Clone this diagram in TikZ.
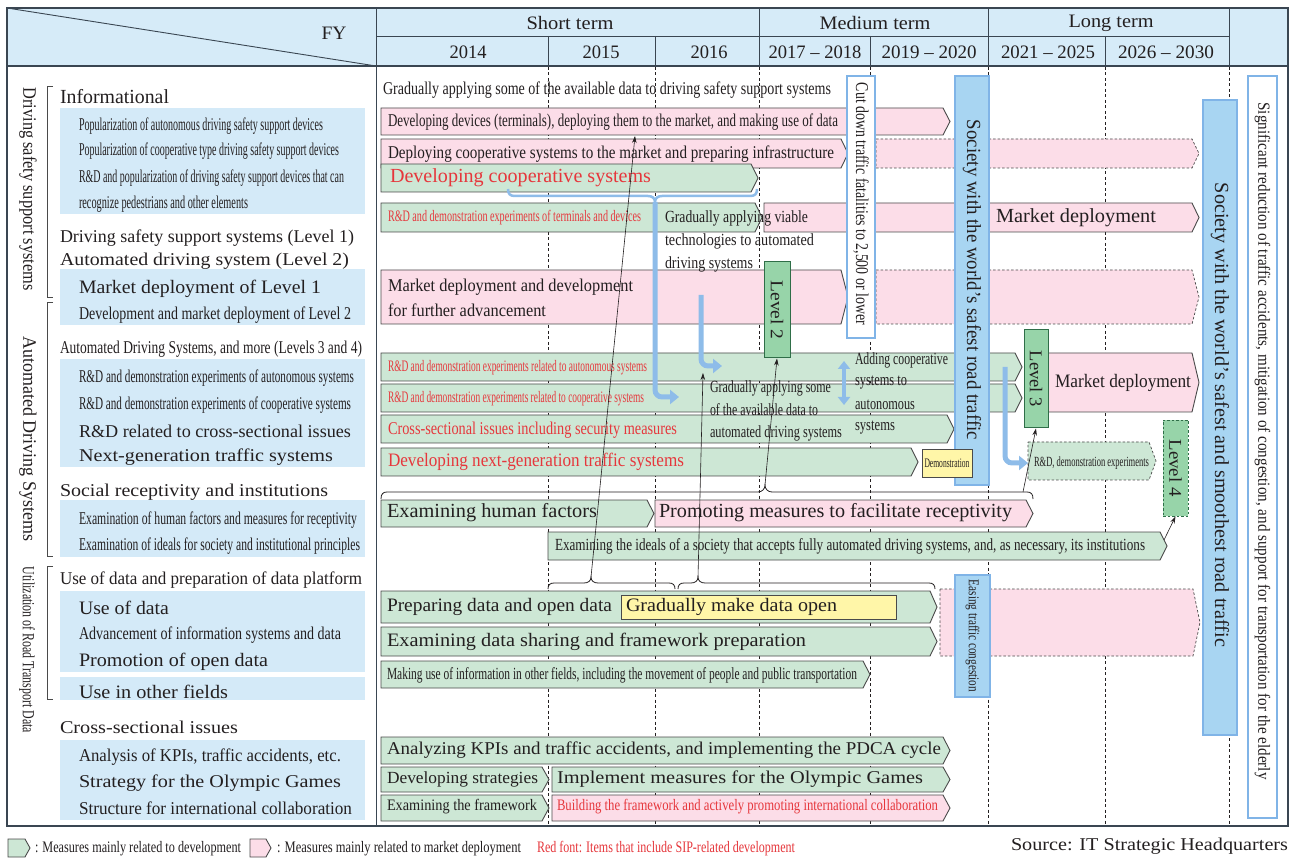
\documentclass[tikz,border=0pt]{standalone}
\usepackage{fontspec}
\setmainfont{Liberation Serif}
\usepackage{graphicx}
\usetikzlibrary{arrows.meta}
\definecolor{ink}{HTML}{231F20}
\definecolor{hdr}{HTML}{D6EBF8}
\definecolor{lbox}{HTML}{D4EAF8}
\definecolor{gf}{HTML}{CDE7D5}
\definecolor{pf}{HTML}{FCDDE8}
\definecolor{lvf}{HTML}{97D4A9}
\definecolor{lve}{HTML}{2F6E48}
\definecolor{bbf}{HTML}{A8D5F2}
\definecolor{bbe}{HTML}{80B4E7}
\definecolor{barc}{HTML}{8EBCE9}
\definecolor{rt}{HTML}{E6373C}
\definecolor{yf}{HTML}{FFF6A8}
\definecolor{edg}{HTML}{4A4A4A}
\definecolor{frm}{HTML}{3A4652}
\newcommand{\fw}[2]{\resizebox{#1pt}{\height}{#2}}
\newcommand{\fsz}[1]{\fontsize{#1}{#1}\selectfont}
\newcommand{\chv}[6]{\path[#1] (#3,#4) -- (#5-7,#4) -- (#5,{(#4+#6)/2}) -- (#5-7,#6) -- (#3,#6) -- cycle; \coordinate (#2) at (#3,{(#4+#6)/2});}
\tikzset{
 tx/.style={inner sep=0pt,outer sep=0pt,anchor=west,text=ink},
 tc/.style={inner sep=0pt,outer sep=0pt,anchor=center,text=ink},
 sip/.style={text=rt},
 gbar/.style={fill=gf,draw=edg,line width=0.9pt},
 pbar/.style={fill=pf,draw=edg,line width=0.9pt},
 pdash/.style={fill=pf,draw=edg,line width=0.7pt,dash pattern=on 2.5pt off 2pt},
 gdash/.style={fill=gf,draw=edg,line width=0.7pt,dash pattern=on 2.5pt off 2pt},
 gridl/.style={draw=ink,line width=0.6pt,dash pattern=on 3pt off 2.5pt},
 hl/.style={draw=frm,line width=0.9pt},
 brk/.style={draw=edg,line width=0.8pt},
 lvl/.style={fill=lvf,draw=lve,line width=1pt,inner sep=0pt},
 lvld/.style={fill=lvf,draw=lve,line width=0.9pt,dash pattern=on 2.5pt off 2pt,inner sep=0pt},
 bigbar/.style={fill=bbf,draw=bbe,line width=2.2pt,inner sep=0pt},
 wbox/.style={fill=white,draw=bbe,line width=2.2pt,inner sep=0pt},
 ybox/.style={fill=yf,draw=edg,line width=0.9pt,inner sep=0pt},
 barr/.style={draw=barc,line width=5pt,rounded corners=7pt,-{Triangle[length=9pt,width=14pt]}},
 barr2/.style={draw=barc,line width=4pt,{Triangle[length=8pt,width=12pt]}-{Triangle[length=8pt,width=12pt]}},
 brc/.style={draw=ink,line width=0.8pt},
 bbrc/.style={draw=barc,line width=2.5pt},
 link/.style={draw=ink,line width=0.6pt,-{Stealth[length=7pt,width=4.5pt]}},
}
\begin{document}
\begin{tikzpicture}[x=1pt,y=-1pt]
\useasboundingbox (0,0) rectangle (1291,858);
\fill[white] (0,0) rectangle (1291,858);
% ---------- header
\fill[hdr] (7,8) rectangle (1288,66);
\draw[hl] (376,36) -- (1229,36);
\draw[hl] (7,8) -- (376,66);
\foreach \xx in {759,988,1229} {\draw[hl] (\xx,8) -- (\xx,66);}
\foreach \xx in {548,655,870,1105} {\draw[hl] (\xx,36) -- (\xx,66);}
\node[tc] (fy) at (334,33) {\fsz{19}\fw{25}{FY}};
\node[tc] (hst) at (570,23) {\fsz{19}\fw{87}{Short term}};
\node[tc] (hmt) at (875,23) {\fsz{19}\fw{111}{Medium term}};
\node[tc] (hlt) at (1111,23) {\fsz{19}\fw{85}{Long term}};
\node[tc] (y1) at (468,52) {\fsz{19}\fw{37}{2014}};
\node[tc] (y2) at (601,52) {\fsz{19}\fw{37}{2015}};
\node[tc] (y3) at (709,52) {\fsz{19}\fw{37}{2016}};
\node[tc] (y4) at (815,52) {\fsz{19}\fw{93}{2017 – 2018}};
\node[tc] (y5) at (929,52) {\fsz{19}\fw{95}{2019 – 2020}};
\node[tc] (y6) at (1048,52) {\fsz{19}\fw{94}{2021 – 2025}};
\node[tc] (y7) at (1166,52) {\fsz{19}\fw{96}{2026 – 2030}};
% ---------- left column
\fill[lbox] (60,108) rectangle (365,214);
\fill[lbox] (60,269) rectangle (365,325);
\fill[lbox] (60,359) rectangle (365,467);
\fill[lbox] (60,500) rectangle (365,557);
\fill[lbox] (60,591) rectangle (365,672);
\fill[lbox] (60,677) rectangle (365,700);
\fill[lbox] (60,740) rectangle (365,820);
\draw[brk] (53,86) -- (47,86) -- (47,297) -- (53,297);
\draw[brk] (53,302) -- (47,302) -- (47,556) -- (53,556);
\draw[brk] (53,566) -- (47,566) -- (47,699) -- (53,699);
\node[tc,rotate=-90] (v1) at (28,189) {\fsz{19}\fw{203}{Driving safety support systems}};
\node[tc,rotate=-90] (v2) at (28,439) {\fsz{19}\fw{205}{Automated Driving Systems}};
\node[tc,rotate=-90] (v3) at (27,650) {\fsz{17}\fw{166}{Utilization of Road Transport Data}};
\node[tx] (l1) at (60,97) {\fsz{20}\fw{109}{Informational}};
\node[tx] (l2) at (79,126) {\fsz{18}\fw{244}{Popularization of autonomous driving safety support devices}};
\node[tx] (l3) at (79,151) {\fsz{18}\fw{260}{Popularization of cooperative type driving safety support devices}};
\node[tx] (l4) at (79,178) {\fsz{18}\fw{265}{R\&D and popularization of driving safety support devices that can}};
\node[tx] (l5) at (79,204) {\fsz{18}\fw{169}{recognize pedestrians and other elements}};
\node[tx] (l6) at (60,238) {\fsz{18}\fw{294}{Driving safety support systems (Level 1)}};
\node[tx] (l7) at (60,261) {\fsz{18}\fw{289}{Automated driving system (Level 2)}};
\node[tx] (l8) at (79,289) {\fsz{19}\fw{242}{Market deployment of Level 1}};
\node[tx] (l9) at (79,315) {\fsz{18}\fw{272}{Development and market deployment of Level 2}};
\node[tx] (l10) at (60,349) {\fsz{18}\fw{302}{Automated Driving Systems, and more (Levels 3 and 4)}};
\node[tx] (l11) at (79,378) {\fsz{18}\fw{275}{R\&D and demonstration experiments of autonomous systems}};
\node[tx] (l12) at (79,405) {\fsz{18}\fw{272}{R\&D and demonstration experiments of cooperative systems}};
\node[tx] (l13) at (79,431) {\fsz{18}\fw{272}{R\&D related to cross-sectional issues}};
\node[tx] (l14) at (79,457) {\fsz{18}\fw{254}{Next-generation traffic systems}};
\node[tx] (l15) at (60,492) {\fsz{18}\fw{268}{Social receptivity and institutions}};
\node[tx] (l16) at (79,520) {\fsz{18}\fw{278}{Examination of human factors and measures for receptivity}};
\node[tx] (l17) at (79,546) {\fsz{18}\fw{281}{Examination of ideals for society and institutional principles}};
\node[tx] (l18) at (60,580) {\fsz{18}\fw{302}{Use of data and preparation of data platform}};
\node[tx] (l19) at (79,608) {\fsz{19}\fw{90}{Use of data}};
\node[tx] (l20) at (79,635) {\fsz{18}\fw{262}{Advancement of information systems and data}};
\node[tx] (l21) at (79,662) {\fsz{19}\fw{189}{Promotion of open data}};
\node[tx] (l22) at (79,692) {\fsz{19}\fw{149}{Use in other fields}};
\node[tx] (l23) at (60,727) {\fsz{18}\fw{178}{Cross-sectional issues}};
\node[tx] (l24) at (79,757) {\fsz{18}\fw{262}{Analysis of KPIs, traffic accidents, etc.}};
\node[tx] (l25) at (79,783) {\fsz{18}\fw{262}{Strategy for the Olympic Games}};
\node[tx] (l26) at (79,808) {\fsz{18}\fw{273}{Structure for international collaboration}};
% ---------- grid
\foreach \xx in {548,655,759,870,988,1105,1229} {\draw[gridl] (\xx,67) -- (\xx,826);}
% ---------- bars
\chv{pbar}{rA}{381}{108}{950}{135}
\chv{pbar}{rB}{381}{139}{848}{168}
\chv{pdash}{rBd}{876}{139}{1199}{168}
\chv{gbar}{rC}{381}{164}{758}{192}
\chv{gbar}{rD}{381}{203}{762}{232}
\chv{pbar}{rDp}{764}{203}{1199}{232}
\chv{pbar}{rE}{381}{270}{848}{324}
\chv{pdash}{rEd}{876}{270}{1199}{324}
\chv{gbar}{rF}{381}{353}{1022}{381}
\chv{gbar}{rG}{381}{384}{1022}{412}
\chv{gbar}{rH}{381}{415}{954}{443}
\chv{gbar}{rI}{381}{448}{918}{476}
\chv{pbar}{rL3}{1048}{353}{1199}{412}
\chv{gdash}{rRD}{1028}{442}{1156}{480}
\chv{gbar}{rJ}{381}{500}{654}{527}
\chv{pbar}{rJp}{655}{500}{1033}{527}
\chv{gbar}{rK}{548}{532}{1167}{560}
\chv{gbar}{rL}{381}{591}{937}{623}
\chv{pdash}{rLd}{940}{589}{1200}{656}
\chv{gbar}{rM}{381}{627}{937}{656}
\chv{gbar}{rN}{381}{661}{870}{688}
\chv{gbar}{rO}{381}{737}{950}{764}
\chv{gbar}{rP1}{381}{767}{549}{792}
\chv{gbar}{rP2}{552}{767}{950}{792}
\chv{gbar}{rQ1}{381}{795}{549}{821}
\chv{pbar}{rQ2}{552}{795}{950}{821}
% ---------- boxes
\node[lvl,minimum width=26pt,minimum height=96pt] (lv2) at (777,310) {};
\node[lvl,minimum width=24pt,minimum height=98pt] (lv3) at (1036,379) {};
\node[lvld,minimum width=25pt,minimum height=96pt] (lv4) at (1175.5,468) {};
\node[wbox,minimum width=28pt,minimum height=262pt] (cut) at (861,207) {};
\node[bigbar,minimum width=34pt,minimum height=409pt] (sb1) at (972,280.5) {};
\node[bigbar,minimum width=34pt,minimum height=635pt] (sb2) at (1220,417.5) {};
\node[wbox,minimum width=29pt,minimum height=742pt] (fin) at (1262.5,447) {};
\node[bigbar,minimum width=35pt,minimum height=122pt] (ease) at (972.5,636) {};
\node[ybox,minimum width=50pt,minimum height=28pt] (demo) at (947,463) {};
\node[ybox,minimum width=275pt,minimum height=24pt] (gopen) at (758.5,607) {};
% ---------- box texts
\node[tc,rotate=-90] (lv2t) at (lv2) {\fsz{18}\fw{59}{Level 2}};
\node[tc,rotate=-90] (lv3t) at (lv3) {\fsz{18}\fw{56}{Level 3}};
\node[tc,rotate=-90] (lv4t) at (lv4) {\fsz{18}\fw{57}{Level 4}};
\node[tc,rotate=-90] (cutt) at (861,204) {\fsz{18}\fw{242}{Cut down traffic fatalities to 2,500 or lower}};
\node[tc,rotate=-90] (sb1t) at (972,280) {\fsz{20}\fw{320}{Society with the world's safest road traffic}};
\node[tc,rotate=-90] (sb2t) at (1220,415) {\fsz{20}\fw{464}{Society with the world's safest and smoothest road traffic}};
\node[tc,rotate=-90] (fint) at (1262.5,441) {\fsz{17}\fw{677}{Significant reduction of traffic accidents, mitigation of congestion, and support for transportation for the elderly}};
\node[tc,rotate=-90] (easet) at (972.5,636) {\fsz{15}\fw{112}{Easing traffic congestion}};
\node[tc] (demot) at (demo) {\fsz{13}\fw{45}{Demonstration}};
\node[tx] (gopent) at (626,607) {\fsz{19}\fw{211}{Gradually make data open}};
% ---------- bar texts
\node[tx] (t0) at (383,90) {\fsz{18}\fw{448}{Gradually applying some of the available data to driving safety support systems}};
\node[tx] (tA) at (388,122) {\fsz{18}\fw{450}{Developing devices (terminals), deploying them to the market, and making use of data}};
\node[tx] (tB) at (388,154) {\fsz{18}\fw{446}{Deploying cooperative systems to the market and preparing infrastructure}};
\node[tx,sip] (tC) at (390,178) {\fsz{20}\fw{261}{Developing cooperative systems}};
\node[tx,sip] (tD) at (388,218) {\fsz{16}\fw{253}{R\&D and demonstration experiments of terminals and devices}};
\node[tx] (tDp) at (996,218) {\fsz{20}\fw{160}{Market deployment}};
\node[tx] (tE1) at (388,287) {\fsz{18}\fw{245}{Market deployment and development}};
\node[tx] (tE2) at (388,310) {\fsz{18}\fw{158}{for further advancement}};
\node[tx,sip] (tF) at (388,368) {\fsz{16}\fw{259}{R\&D and demonstration experiments related to autonomous systems}};
\node[tx,sip] (tG) at (388,399) {\fsz{16}\fw{256}{R\&D and demonstration experiments related to cooperative systems}};
\node[tx,sip] (tH) at (388,430) {\fsz{18}\fw{289}{Cross-sectional issues including security measures}};
\node[tx,sip] (tI) at (388,462) {\fsz{19}\fw{296}{Developing next-generation traffic systems}};
\node[tx] (tL3) at (1055,383) {\fsz{19}\fw{136}{Market deployment}};
\node[tx] (tRD) at (1034,463) {\fsz{14}\fw{115}{R\&D, demonstration experiments}};
\node[tx] (tJ) at (387,513) {\fsz{20}\fw{210}{Examining human factors}};
\node[tx] (tJp) at (659,513) {\fsz{20}\fw{353}{Promoting measures to facilitate receptivity}};
\node[tx] (tK) at (555,546) {\fsz{17}\fw{590}{Examining the ideals of a society that accepts fully automated driving systems, and, as necessary, its institutions}};
\node[tx] (tL) at (387,607) {\fsz{19}\fw{225}{Preparing data and open data}};
\node[tx] (tM) at (387,642) {\fsz{19}\fw{419}{Examining data sharing and framework preparation}};
\node[tx] (tN) at (387,675) {\fsz{17}\fw{470}{Making use of information in other fields, including the movement of people and public transportation}};
\node[tx] (tO) at (387,750) {\fsz{18}\fw{554}{Analyzing KPIs and traffic accidents, and implementing the PDCA cycle}};
\node[tx] (tP1) at (387,779) {\fsz{17}\fw{151}{Developing strategies}};
\node[tx] (tP2) at (557,779) {\fsz{18}\fw{366}{Implement measures for the Olympic Games}};
\node[tx] (tQ1) at (387,807) {\fsz{16}\fw{150}{Examining the framework}};
\node[tx,sip] (tQ2) at (557,807) {\fsz{16}\fw{381}{Building the framework and actively promoting international collaboration}};
% ---------- blue brace and arrows
\coordinate (bb) at (655,202);
\draw[bbrc] (508,189) .. controls (508,194) and (510,196) .. (515,196) -- (648,196) .. controls (652,196) and (655,198) .. (bb) .. controls (655,198) and (658,196) .. (662,196) -- (750,196) .. controls (755,196) and (757,194) .. (757,189);
\coordinate (a1e) at (679,397);
\draw[barr] (bb) |- (a1e);
\coordinate (a2s) at (701,295); \coordinate (a2e) at (722,366);
\draw[barr] (a2s) |- (a2e);
\coordinate (a3s) at (1005,367); \coordinate (a3e) at (1028,463);
\draw[barr] (a3s) |- (a3e);
\coordinate (dbs) at (844,361); \coordinate (dbe) at (844,405);
\draw[barr2] (dbs) -- (dbe);
% ---------- black braces
\coordinate (bU) at (765,485);
\draw[brc] (381,499) .. controls (381,494) and (383,492) .. (387,492) -- (758,492) .. controls (762,492) and (765,489) .. (bU) .. controls (765,489) and (768,492) .. (772,492) -- (1027,492) .. controls (1031,492) and (1033,494) .. (1033,499);
\coordinate (b1) at (591,577);
\draw[brc] (548,589) .. controls (548,585) and (550,583) .. (554,583) -- (584,583) .. controls (588,583) and (591,581) .. (b1) .. controls (591,581) and (594,583) .. (598,583) -- (669,583) .. controls (673,583) and (675,585) .. (675,589);
\coordinate (b2) at (698,577);
\draw[brc] (678,589) .. controls (678,585) and (680,583) .. (684,583) -- (691,583) .. controls (695,583) and (698,581) .. (b2) .. controls (698,581) and (701,583) .. (705,583) -- (929,583) .. controls (933,583) and (935,585) .. (935,589);
% ---------- thin arrows
\coordinate (aT) at (635,136);
\draw[link] (b1) -- (aT);
\coordinate (a2T) at (703,373);
\draw[link] (b2) -- (a2T);
\draw[link] (bU) -- (lv2.south);
\coordinate (bUr) at (1023,492);
\draw[link] (bUr) -- (lv3.south);
\coordinate (kT) at (1164,540);
\draw[link] (kT) -- (lv4.south);
% ---------- overlay texts
\node[tx] (g1) at (665,218) {\fsz{17}\fw{143}{Gradually applying viable}};
\node[tx] (g2) at (665,241) {\fsz{17}\fw{149}{technologies to automated}};
\node[tx] (g3) at (665,264) {\fsz{17}\fw{88}{driving systems}};
\node[tx] (s1) at (710,388) {\fsz{17}\fw{121}{Gradually applying some}};
\node[tx] (s2) at (710,410) {\fsz{17}\fw{108}{of the available data to}};
\node[tx] (s3) at (710,433) {\fsz{17}\fw{132}{automated driving systems}};
\node[tx] (c1) at (855,360) {\fsz{17}\fw{93}{Adding cooperative}};
\node[tx] (c2) at (855,383) {\fsz{17}\fw{52}{systems to}};
\node[tx] (c3) at (855,405) {\fsz{17}\fw{60}{autonomous}};
\node[tx] (c4) at (855,428) {\fsz{17}\fw{40}{systems}};
% ---------- frame
\draw[frm,line width=1.2pt] (7,8) rectangle (1288,826);
\draw[frm,line width=1.0pt] (376,8) -- (376,826);
\draw[frm,line width=1.8pt] (7,66) -- (1288,66);
% ---------- legend
\path[gbar] (8,839) -- (25,839) -- (30,848) -- (25,857) -- (8,857) -- cycle;
\node[tx] (lg1) at (35,849) {\fsz{16}\fw{206}{: Measures mainly related to development}};
\path[pbar] (250,839) -- (266,839) -- (271,848) -- (266,857) -- (250,857) -- cycle;
\node[tx] (lg2) at (277,849) {\fsz{16}\fw{244}{: Measures mainly related to market deployment}};
\node[tx,sip] (lg3) at (537,849) {\fsz{16}\fw{258}{Red font: Items that include SIP-related development}};
\node[tx] (src) at (1011,846) {\fsz{18}\fw{277}{Source: IT Strategic Headquarters}};
\end{tikzpicture}
\end{document}
